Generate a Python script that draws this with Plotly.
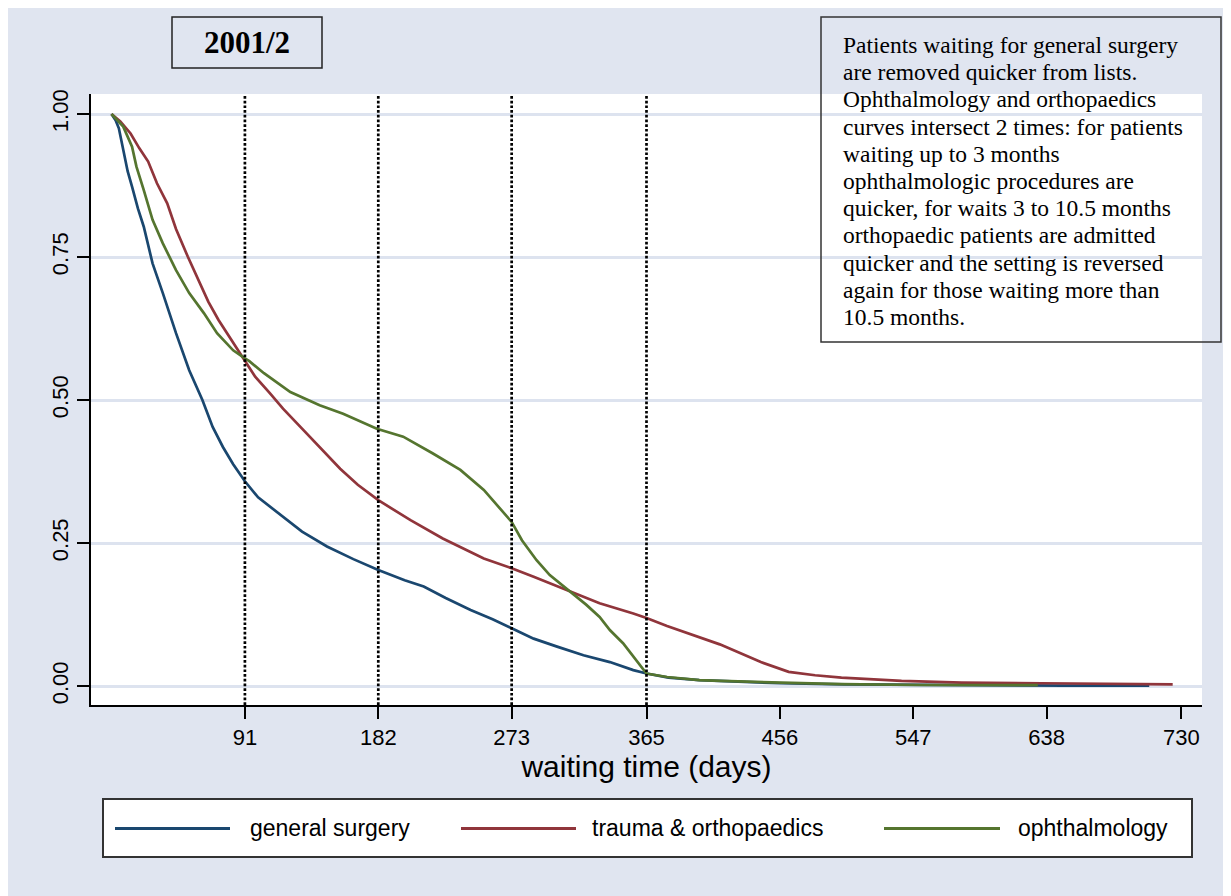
import plotly.graph_objects as go

# ---------------- data ----------------
gs_days = [0, 3, 5, 8, 11, 14, 18, 22, 28, 35, 44, 53, 62, 69, 76, 83, 91, 100, 117, 130, 147,
           165, 182, 200, 213, 228, 245, 260, 273, 288, 304, 322, 340, 356, 365, 380, 401, 430,
           456, 500, 550, 600, 650, 708]
gs_surv = [1.0, 0.988, 0.975, 0.935, 0.900, 0.873, 0.835, 0.803, 0.739, 0.687, 0.617, 0.552, 0.500,
           0.453, 0.418, 0.388, 0.358, 0.330, 0.296, 0.270, 0.244, 0.222, 0.203, 0.185, 0.174,
           0.154, 0.133, 0.117, 0.101, 0.083, 0.069, 0.054, 0.042, 0.028, 0.022, 0.015, 0.0105,
           0.007, 0.005, 0.003, 0.002, 0.0015, 0.001, 0.001]

to_days = [0, 6, 13, 19, 25, 31, 38, 44, 52, 59, 66, 73, 82, 90, 98, 108, 117, 130, 140, 156,
           168, 182, 204, 226, 254, 273, 288, 310, 333, 356, 365, 379, 401, 415, 443, 462, 480,
           498, 539, 580, 635, 690, 724]
to_surv = [1.0, 0.987, 0.966, 0.940, 0.917, 0.879, 0.844, 0.799, 0.751, 0.710, 0.672, 0.640, 0.605,
           0.573, 0.541, 0.512, 0.485, 0.450, 0.423, 0.380, 0.352, 0.325, 0.290, 0.258,
           0.223, 0.206, 0.191, 0.168, 0.145, 0.127, 0.119, 0.105, 0.086, 0.073, 0.042, 0.025,
           0.019, 0.015, 0.009, 0.006, 0.005, 0.0035, 0.003]

op_days = [0, 3, 8, 14, 17, 22, 28, 35, 44, 53, 63, 72, 83, 91, 94, 104, 117, 122, 142, 158, 181,
           199, 219, 238, 254, 265, 273, 280, 290, 299, 310, 324, 333, 340, 349, 356, 365, 379,
           401, 416, 457, 498, 553, 632]
op_surv = [1.0, 0.992, 0.978, 0.943, 0.908, 0.867, 0.815, 0.774, 0.727, 0.687, 0.652, 0.617, 0.587,
           0.573, 0.568, 0.547, 0.522, 0.514, 0.491, 0.476, 0.450, 0.436, 0.407, 0.378, 0.343,
           0.311, 0.287, 0.255, 0.220, 0.194, 0.171, 0.142, 0.121, 0.098, 0.075, 0.051, 0.022,
           0.016, 0.0105, 0.009, 0.006, 0.0035, 0.002, 0.0017]

series_names = ["general surgery", "trauma & orthopaedics", "ophthalmology"]
series_colors = ["#1a476f", "#90353b", "#55752f"]

ref_days = [91, 182, 273, 365]
x_ticks = [91, 182, 273, 365, 456, 547, 638, 730]
y_ticks = [0.0, 0.25, 0.5, 0.75, 1.0]
y_ticktext = ["0.00", "0.25", "0.50", "0.75", "1.00"]

title_text = "2001/2"
note_lines = [
    "Patients waiting for general surgery",
    "are removed quicker from lists.",
    "Ophthalmology and orthopaedics",
    "curves intersect 2 times: for patients",
    "waiting up to 3 months",
    "ophthalmologic procedures are",
    "quicker, for waits 3 to 10.5 months",
    "orthopaedic patients are admitted",
    "quicker and the setting is reversed",
    "again for those waiting more than",
    "10.5 months.",
]

# ---------------- layout geometry (screen px; page body adds an 8px offset) ----------------
W, H = 1231, 896
OX, OY = 8, 8
ML, MT = 91 - OX, 94 - OY
MR = W - (1202 - OX)
MB = H - (705 - OY)
PW, PH = W - ML - MR, H - MT - MB
BG = "#e0e5f0"
SANS = "Arial, Liberation Sans, sans-serif"
SERIF = "Times New Roman, Liberation Serif, serif"


def px(x):
    return (x - OX - ML) / PW


def py(y):
    return (MT + PH - (y - OY)) / PH


fig = go.Figure()
for d, s, name, col in zip([gs_days, to_days, op_days], [gs_surv, to_surv, op_surv],
                           series_names, series_colors):
    fig.add_trace(go.Scatter(x=d, y=s, mode="lines", name=name,
                             line=dict(color=col, width=2.7), showlegend=False))

shapes = []
# dotted reference lines
for d in ref_days:
    shapes.append(dict(type="line", xref="x", yref="paper", x0=d, x1=d, y0=0, y1=1,
                       line=dict(color="black", width=2.7, dash="2.7px,2px")))
# title box
shapes.append(dict(type="rect", xref="paper", yref="paper", x0=px(172), x1=px(322), y0=py(68), y1=py(17),
                   line=dict(color="#222222", width=1.5)))
# note box
shapes.append(dict(type="rect", xref="paper", yref="paper", x0=px(821), x1=px(1221), y0=py(342), y1=py(17),
                   line=dict(color="#333333", width=1.5)))
# legend box
shapes.append(dict(type="rect", xref="paper", yref="paper", x0=px(103), x1=px(1192), y0=py(857), y1=py(799),
                   fillcolor="white", line=dict(color="#333333", width=2)))

annotations = []
annotations.append(dict(xref="paper", yref="paper", x=px(247), y=py(43), text="<b>" + title_text + "</b>",
                        showarrow=False, xanchor="center", yanchor="middle",
                        font=dict(family=SERIF, size=31, color="black")))
for i, line in enumerate(note_lines):
    annotations.append(dict(xref="paper", yref="paper", x=px(841), y=py(45 + 27.2 * i), text=line,
                            showarrow=False, xanchor="left", yanchor="middle",
                            font=dict(family=SERIF, size=23.5, color="black")))

# custom legend entries
leg_lines = [(115, 230), (461, 576), (884, 1000)]
leg_text_x = [248, 590, 1016]
for (a, b), tx, name, col in zip(leg_lines, leg_text_x, series_names, series_colors):
    shapes.append(dict(type="line", xref="paper", yref="paper", x0=px(a), x1=px(b), y0=py(828.5), y1=py(828.5),
                       line=dict(color=col, width=3)))
    annotations.append(dict(xref="paper", yref="paper", x=px(tx), y=py(828), text=name, showarrow=False,
                            xanchor="left", yanchor="middle",
                            font=dict(family=SANS, size=23, color="black")))

fig.update_layout(
    width=W, height=H,
    margin=dict(l=ML, r=MR, t=MT, b=MB, pad=0),
    paper_bgcolor=BG, plot_bgcolor="white",
    shapes=shapes, annotations=annotations, showlegend=False,
    font=dict(family=SANS, color="black"),
)
fig.update_xaxes(range=[-14, 744], tickvals=x_ticks, ticks="outside", ticklen=12, tickwidth=1.5,
                 tickcolor="black", showgrid=False, zeroline=False, showline=True, linecolor="black",
                 linewidth=1.5, tickfont=dict(family=SANS, size=22, color="black"),
                 title=dict(text="waiting time (days)", font=dict(family=SANS, size=30, color="black"),
                            standoff=4))
fig.update_yaxes(range=[-0.033, 1.035], tickvals=y_ticks, ticktext=y_ticktext, tickangle=-90,
                 ticks="outside", ticklen=12, tickwidth=1.5, tickcolor="black", showgrid=True,
                 gridcolor="#dde3ef", gridwidth=3, zeroline=False, showline=True, linecolor="black",
                 linewidth=1.5, tickfont=dict(family=SANS, size=22, color="black"))

fig.write_html("out.html")
